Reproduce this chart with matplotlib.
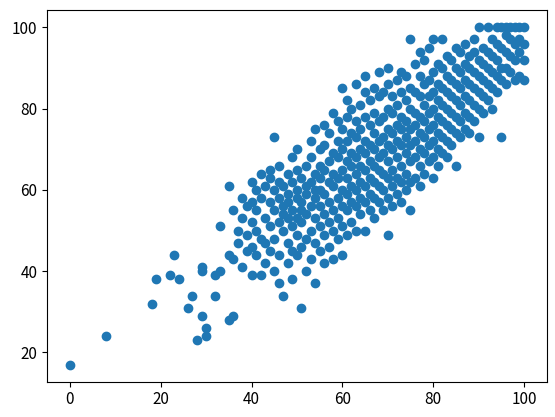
import matplotlib.pyplot as plt

plt.rcParams['font.family'] = ['Noto Sans CJK KR', 'DejaVu Sans']

# scores, grouped by x value
cols = {
    0: [17], 8: [24], 18: [32], 19: [38], 22: [39], 23: [44], 24: [38],
    26: [31], 27: [34], 28: [23], 29: [29, 40, 41], 30: [24, 26], 32: [34, 39],
    33: [40, 51], 35: [28, 44, 61], 36: [29, 43, 55], 37: [50, 47], 38: [41, 58, 53],
    39: [45, 49, 56], 40: [39, 46, 52, 62, 57], 41: [44, 55, 50, 60], 42: [39, 48, 58, 64],
    43: [42, 53, 61, 47], 44: [45, 51, 57, 63, 65], 45: [40, 48, 55, 60, 73],
    46: [37, 44, 52, 58, 62, 66], 47: [34, 50, 56, 61, 54], 48: [42, 47, 53, 59, 64, 57],
    49: [38, 45, 51, 55, 62, 68], 50: [44, 49, 53, 58, 60, 65, 70], 51: [31, 46, 52, 57, 63, 55],
    52: [40, 48, 54, 59, 66, 61], 53: [43, 50, 56, 62, 68, 72], 54: [37, 47, 53, 58, 64, 60, 75],
    55: [45, 51, 56, 60, 66, 70, 63], 56: [42, 49, 54, 59, 65, 71, 76], 57: [46, 52, 57, 62, 67, 74],
    58: [43, 50, 55, 61, 64, 69, 79], 59: [48, 53, 58, 63, 68, 72, 77], 60: [44, 51, 56, 60, 65, 70, 75, 85],
    61: [49, 55, 59, 63, 67, 72, 78, 82], 62: [52, 57, 61, 66, 69, 74, 80], 63: [50, 56, 60, 64, 68, 73, 77, 86],
    64: [54, 58, 62, 66, 70, 75, 81], 65: [50, 57, 61, 65, 69, 72, 78, 84, 88], 66: [55, 59, 63, 67, 71, 76, 82],
    67: [53, 58, 62, 66, 70, 74, 79, 85], 68: [57, 61, 65, 68, 72, 77, 83, 89], 69: [55, 60, 64, 69, 73, 78, 84],
    70: [49, 58, 63, 67, 71, 75, 80, 86, 90], 71: [56, 61, 65, 70, 74, 79, 83], 72: [59, 63, 68, 72, 76, 81, 87],
    73: [57, 62, 66, 71, 75, 78, 84, 89], 74: [60, 64, 69, 73, 77, 82, 88], 75: [55, 62, 67, 71, 75, 80, 85, 97],
    76: [63, 68, 72, 76, 79, 84, 91], 77: [61, 66, 70, 74, 78, 83, 88, 94], 78: [64, 69, 73, 77, 81, 86, 92],
    79: [67, 71, 75, 79, 83, 87, 95], 80: [63, 68, 72, 76, 80, 84, 89, 97], 81: [66, 70, 74, 78, 82, 86, 91],
    82: [69, 73, 77, 81, 85, 90, 97], 83: [68, 72, 76, 80, 84, 88, 93], 84: [71, 75, 79, 83, 87, 92],
    85: [66, 74, 78, 82, 86, 90, 95], 86: [73, 77, 81, 85, 89, 94], 87: [75, 79, 83, 87, 91, 96],
    88: [74, 78, 82, 86, 90, 93], 89: [77, 81, 85, 89, 94, 97], 90: [73, 80, 84, 88, 92, 100],
    91: [79, 83, 87, 91, 95], 92: [82, 86, 90, 94, 100], 93: [80, 85, 89, 93, 97], 94: [84, 88, 92, 96, 100],
    95: [73, 87, 90, 95, 100], 96: [86, 90, 94, 98, 100], 97: [89, 93, 97, 100], 98: [87, 92, 96, 100],
    99: [88, 94, 97, 100], 100: [87, 92, 96, 100],
}
x_vals = [x for x, ys in cols.items() for _ in ys]
y_vals = [y for ys in cols.values() for y in ys]

fig, ax = plt.subplots(figsize=(5.55, 4.17), dpi=100)
ax.scatter(x_vals, y_vals, color='#1f77b4', s=36)
ax.set_xticks([0, 20, 40, 60, 80, 100])
ax.set_yticks([20, 40, 60, 80, 100])
ax.tick_params(labelsize=11)
plt.subplots_adjust(left=0.085, right=0.985, top=0.975, bottom=0.085)
fig.savefig('out.png')
